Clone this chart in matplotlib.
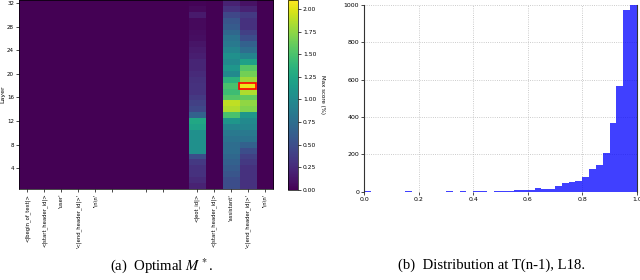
import numpy as np
import matplotlib
matplotlib.use("Agg")
import matplotlib.pyplot as plt
from matplotlib.patches import Rectangle

# ---- data (a): max score per layer (1..32) and token position ----
tokens = ["<|begin_of_text|>", "<|start_header_id|>", "'user'", "'<|end_header_id|>'",
          "'\\n\\n'", "", "", "", "", "", "<|eot_id|>", "<|start_header_id|>",
          "'assistant'", "'<|end_header_id|>'", "'\\n\\n'"]
tick_idx = [0, 1, 2, 3, 4, 5, 7, 8, 10, 11, 12, 13, 14]
n_layers = 32
# values listed from layer 1 up to layer 32
eot_vals = [0.2, 0.25, 0.3, 0.3, 0.35, 0.5, 1.05, 1.05, 1.05, 1.05, 1.2, 1.25,
            0.65, 0.45, 0.4, 0.35, 0.3, 0.3, 0.28, 0.25, 0.22, 0.22, 0.18, 0.15,
            0.12, 0.08, 0.07, 0.05, 0.05, 0.15, 0.05, 0.02]
assistant_vals = [0.5, 0.5, 0.55, 0.6, 0.65, 0.7, 0.75, 0.75, 0.8, 0.85, 0.95, 1.1,
                  1.5, 1.85, 1.9, 1.55, 1.45, 1.5, 1.35, 1.0, 1.1, 1.0, 1.05, 0.95,
                  0.85, 0.8, 0.7, 0.6, 0.55, 0.45, 0.3, 0.2]
end_hdr_vals = [0.3, 0.3, 0.3, 0.3, 0.35, 0.4, 0.5, 0.65, 0.8, 0.85, 0.95, 1.0,
                1.1, 1.7, 1.75, 1.6, 1.85, 2.05, 1.8, 1.65, 1.55, 1.2, 0.95, 0.75,
                0.65, 0.5, 0.4, 0.3, 0.3, 0.35, 0.2, 0.1]
best_layer, best_token = 18, 13

# ---- data (b): histogram counts, 40 bins on [0, 1] ----
bin_edges = np.linspace(0, 1, 41)
counts = [3, 0, 0, 0, 0, 0, 2, 0, 0, 0,
          0, 0, 2, 0, 3, 0, 3, 3, 0, 4,
          5, 6, 7, 12, 10, 20, 13, 16, 32, 47,
          54, 59, 79, 122, 141, 206, 370, 566, 974, 1150]

M = np.zeros((n_layers, len(tokens)))
M[:, 10] = eot_vals
M[:, 12] = assistant_vals
M[:, 13] = end_hdr_vals

fig = plt.figure(figsize=(6.4, 2.8), dpi=100)

#---------------- (a) heatmap ----------------
ax1 = fig.add_axes([0.0297, 0.325, 0.397, 0.675])
im = ax1.imshow(M, origin="lower", aspect="auto", cmap="viridis", vmin=0, vmax=2.1,
                extent=(-0.5, len(tokens) - 0.5, 0.5, n_layers + 0.5), interpolation="nearest")
ax1.add_patch(Rectangle((best_token - 0.5, best_layer - 0.5), 1, 1,
                        fill=False, edgecolor="red", linewidth=1.2))
ax1.set_xticks(tick_idx)
ax1.set_xticklabels([tokens[i] for i in tick_idx], rotation=90, fontsize=3.8)
ax1.set_yticks(range(4, n_layers + 1, 4))
ax1.tick_params(axis="y", labelsize=4, length=2, width=0.5, pad=1.5)
ax1.tick_params(axis="x", length=2, width=0.5, pad=1.5)
ax1.set_ylabel("Layer", fontsize=4.5, labelpad=1)
for s in ax1.spines.values():
    s.set_linewidth(0.5)

cax = fig.add_axes([0.45, 0.3214, 0.0156, 0.679])
cb = fig.colorbar(im, cax=cax)
cb.set_ticks(np.arange(0, 2.01, 0.25))
cb.ax.tick_params(labelsize=4.3, length=2, width=0.5, pad=1.5)
cb.outline.set_linewidth(0.5)
cb.set_label("Max score (%)", fontsize=4, rotation=270, labelpad=6)

#---------------- (b) histogram ----------------
ax2 = fig.add_axes([0.569, 0.315, 0.426, 0.667])
ax2.hist(bin_edges[:-1], bins=bin_edges, weights=counts, color="blue", alpha=0.75,
         histtype="stepfilled", linewidth=0)
ax2.set_xlim(0, 1)
ax2.set_ylim(0, 1000)
ax2.set_xticks(np.arange(0, 1.01, 0.2))
ax2.set_yticks(range(0, 1001, 200))
ax2.grid(True, linestyle=":", color="#bbbbbb", linewidth=0.6)
ax2.set_axisbelow(True)
ax2.spines["top"].set_visible(False)
ax2.spines["bottom"].set_visible(False)
ax2.spines["left"].set_color("#333333")
ax2.spines["right"].set_color("#333333")
ax2.tick_params(labelsize=4.5, length=2, width=0.5, pad=1.5)

#---------------- captions ----------------
plt.rcParams["mathtext.fontset"] = "stix"
fig.text(0.252, 0.053, "(a)  Optimal $M^*$.", ha="center", va="center",
         fontsize=10.6, family="Liberation Serif")
fig.text(0.768, 0.053, "(b)  Distribution at T(n-1), L18.", ha="center", va="center",
         fontsize=10.6, family="Liberation Serif")

fig.savefig("out.png", dpi=100)
